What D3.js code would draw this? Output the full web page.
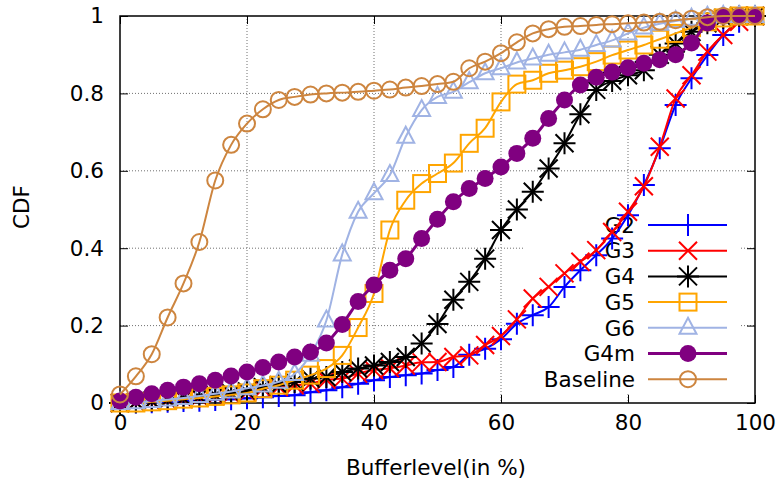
<!DOCTYPE html>
<html><head><meta charset="utf-8">
<script src="https://cdn.jsdelivr.net/npm/d3@7/dist/d3.min.js"></script>
<style>body{margin:0;background:#fff} text{font-family:"DejaVu Sans",sans-serif;fill:#000}</style>
</head><body><svg id="c" width="782" height="484"></svg>
<script>
const bufferLevels = [0,2.5,5,7.5,10,12.5,15,17.5,20,22.5,25,27.5,30,32.5,35,37.5,40,42.5,45,47.5,50,52.5,55,57.5,60,62.5,65,67.5,70,72.5,75,77.5,80,82.5,85,87.5,90,92.5,95,97.5,100];
const G2 = [0,0.001,0.002,0.003,0.005,0.006,0.008,0.01,0.012,0.015,0.018,0.02,0.028,0.033,0.041,0.05,0.059,0.067,0.072,0.076,0.085,0.093,0.125,0.14,0.165,0.205,0.227,0.248,0.3,0.343,0.382,0.425,0.485,0.563,0.658,0.77,0.839,0.899,0.951,0.985,1.0];
const G3 = [0,0.002,0.004,0.007,0.01,0.014,0.018,0.022,0.027,0.037,0.041,0.046,0.05,0.06,0.063,0.076,0.085,0.09,0.097,0.105,0.106,0.119,0.123,0.15,0.173,0.216,0.27,0.3,0.335,0.365,0.395,0.442,0.494,0.56,0.662,0.787,0.847,0.908,0.951,0.985,1.0];
const G4 = [0,0.002,0.005,0.008,0.012,0.016,0.02,0.025,0.03,0.041,0.046,0.054,0.063,0.067,0.08,0.089,0.097,0.106,0.119,0.154,0.204,0.267,0.313,0.373,0.447,0.5,0.546,0.606,0.671,0.746,0.809,0.832,0.847,0.86,0.9,0.929,0.959,0.981,0.995,1.0,1.0];
const G5 = [0,0,0.003,0.006,0.01,0.013,0.017,0.021,0.026,0.037,0.046,0.059,0.072,0.089,0.123,0.195,0.283,0.447,0.524,0.567,0.593,0.62,0.671,0.71,0.778,0.824,0.834,0.852,0.86,0.869,0.882,0.899,0.912,0.925,0.94,0.955,0.97,0.985,0.995,1.0,1.0];
const G6 = [0,0.002,0.005,0.009,0.013,0.018,0.024,0.03,0.038,0.045,0.055,0.075,0.125,0.213,0.384,0.494,0.542,0.589,0.688,0.757,0.791,0.804,0.829,0.852,0.865,0.88,0.89,0.9,0.906,0.913,0.925,0.937,0.955,0.97,0.98,0.987,0.993,0.998,1.0,1.0,1.0];
const G4m = [0.005,0.015,0.024,0.033,0.041,0.05,0.059,0.07,0.08,0.092,0.106,0.119,0.132,0.155,0.203,0.262,0.305,0.343,0.373,0.425,0.475,0.52,0.554,0.58,0.61,0.645,0.684,0.735,0.783,0.822,0.842,0.855,0.866,0.878,0.887,0.9,0.93,0.982,1.0,1.0,1.0];
const Baseline = [0.022,0.069,0.126,0.221,0.309,0.416,0.575,0.667,0.722,0.759,0.783,0.791,0.797,0.8,0.802,0.804,0.807,0.81,0.815,0.819,0.824,0.83,0.865,0.882,0.904,0.932,0.955,0.966,0.972,0.974,0.977,0.979,0.981,0.983,0.985,0.989,0.993,0.997,1.0,1.0,1.0];
const seriesNames = ["G2","G3","G4","G5","G6","G4m","Baseline"];
const seriesValues = [G2,G3,G4,G5,G6,G4m,Baseline];
const seriesColors = ["#0000ff","#ff0000","#000000","#ffa500","#a0b3e4","#800080","#cd853f"];
const seriesMarkers = ["plus","cross","star","square","triangle","dot","circle"];
const xTicks = [0,20,40,60,80,100];
const yTicks = [0,0.2,0.4,0.6,0.8,1];
const yTickLabels = ["0","0.2","0.4","0.6","0.8","1"];
const xTitle = "Bufferlevel(in %)";
const yTitle = "CDF";

const svg = d3.select("#c");
const L=120,R=755,T=16,B=403;
const x = d3.scaleLinear().domain([0,100]).range([L,R]);
const y = d3.scaleLinear().domain([0,1]).range([B,T]);
const FS = 21.5;

// grid
const grid = svg.append("g").attr("stroke","#707070").attr("stroke-width",1).attr("stroke-dasharray","1,2");
xTicks.filter(v=>v>0&&v<100).forEach(v=>grid.append("line").attr("x1",x(v)).attr("x2",x(v)).attr("y1",T).attr("y2",B));
yTicks.filter(v=>v>0&&v<1).forEach(v=>grid.append("line").attr("x1",L).attr("x2",R).attr("y1",y(v)).attr("y2",y(v)));

// key background (opaque)
const keyX0=523,keyX1=741,keyY0=210,keyY1=392;
svg.append("rect").attr("x",keyX0).attr("y",keyY0).attr("width",keyX1-keyX0).attr("height",keyY1-keyY0).attr("fill","#fff");

// axes with ticks inward
const ax = svg.append("g");
ax.append("g").attr("transform",`translate(0,${B})`).call(d3.axisBottom(x).tickValues(xTicks).tickSize(-8).tickPadding(12).tickFormat(d3.format("d")));
ax.append("g").attr("transform",`translate(0,${T})`).call(d3.axisTop(x).tickValues(xTicks).tickSize(-8).tickFormat(""));
ax.append("g").attr("transform",`translate(${L},0)`).call(d3.axisLeft(y).tickValues(yTicks).tickSize(-8).tickPadding(16).tickFormat((d,i)=>yTickLabels[i]));
ax.append("g").attr("transform",`translate(${R},0)`).call(d3.axisRight(y).tickValues(yTicks).tickSize(-8).tickFormat(""));
ax.selectAll(".domain").remove();
ax.selectAll("line").attr("stroke","#000").attr("stroke-width",1);
ax.selectAll("text").attr("font-size",FS).attr("font-family","DejaVu Sans").attr("fill","#000");
svg.append("rect").attr("x",L).attr("y",T).attr("width",R-L).attr("height",B-T).attr("fill","none").attr("stroke","#000").attr("stroke-width",1.5);

// titles
svg.append("text").attr("x",436).attr("y",475).attr("text-anchor","middle").attr("font-size",FS).text(xTitle);
svg.append("text").attr("transform","translate(29,207) rotate(-90)").attr("text-anchor","middle").attr("font-size",FS).text(yTitle);

function marker(g, type, cx, cy, color){
  const sw=2;
  if(type==="plus"||type==="star"){
    g.append("path").attr("d",`M${cx-11},${cy}H${cx+11}M${cx},${cy-11}V${cy+11}`).attr("stroke",color).attr("stroke-width",sw).attr("fill","none");
  }
  if(type==="cross"||type==="star"){
    const h=9;
    g.append("path").attr("d",`M${cx-h},${cy-h}L${cx+h},${cy+h}M${cx-h},${cy+h}L${cx+h},${cy-h}`).attr("stroke",color).attr("stroke-width",sw).attr("fill","none");
  }
  if(type==="square"){
    g.append("rect").attr("x",cx-8.5).attr("y",cy-8.5).attr("width",17).attr("height",17).attr("stroke",color).attr("stroke-width",sw).attr("fill","none");
  }
  if(type==="triangle"){
    g.append("path").attr("d",`M${cx},${cy-10}L${cx+8.5},${cy+6}L${cx-8.5},${cy+6}Z`).attr("stroke",color).attr("stroke-width",sw).attr("fill","none");
  }
  if(type==="dot"){
    g.append("circle").attr("cx",cx).attr("cy",cy).attr("r",8.5).attr("fill",color);
  }
  if(type==="circle"){
    g.append("circle").attr("cx",cx).attr("cy",cy).attr("r",8).attr("stroke",color).attr("stroke-width",sw).attr("fill","none");
  }
}

// legend text + samples
const keyTop=225, keyStep=25.7;
const leg = svg.append("g");
seriesNames.forEach((n,i)=>{
  const ly = keyTop+i*keyStep;
  leg.append("text").attr("x",635).attr("y",ly).attr("dy","0.36em").attr("text-anchor","end").attr("font-size",FS).text(n);
});

const line = d3.line().x((d,i)=>x(bufferLevels[i])).y(d=>y(d)).curve(d3.curveMonotoneX);
seriesValues.forEach((vals,si)=>{
  const g = svg.append("g");
  const col = seriesColors[si];
  const lw = seriesMarkers[si]==="dot"?3:2;
  g.append("path").attr("d",line(vals)).attr("fill","none").attr("stroke",col).attr("stroke-width",lw);
  vals.forEach((v,i)=>marker(g, seriesMarkers[si], x(bufferLevels[i]), y(v), col));
  const ly = keyTop+si*keyStep;
  g.append("line").attr("x1",648).attr("x2",727).attr("y1",ly).attr("y2",ly).attr("stroke",col).attr("stroke-width",lw);
  marker(g, seriesMarkers[si], 688, ly, col);
});
</script></body></html>
